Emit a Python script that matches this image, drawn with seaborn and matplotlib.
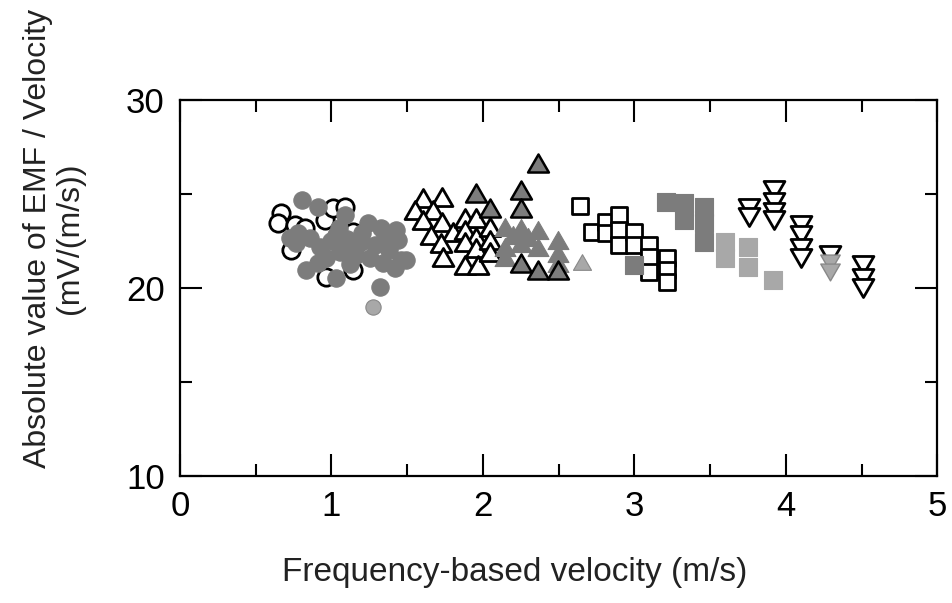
import matplotlib
matplotlib.use("Agg")
import matplotlib.pyplot as plt
from matplotlib.ticker import MultipleLocator
from matplotlib.path import Path
import seaborn as sns
import pandas as pd

# ---- data ----
open_circle_x = [0.668, 0.646, 0.756, 0.822, 0.954, 1.009, 1.086, 1.141, 0.734, 1.141, 0.965]
open_circle_y = [23.97, 23.44, 23.35, 23.18, 23.62, 24.24, 24.33, 23.00, 22.02, 20.96, 20.60]

gray_circle_x = [0.807, 0.910, 1.086, 0.723, 0.767, 0.855, 0.921, 1.031, 1.053, 0.965,
                 0.833, 1.031, 1.141, 1.196, 1.240, 1.328, 1.427, 1.438, 1.284, 1.251,
                 1.339, 1.416, 1.493, 1.163, 0.910, 1.317, 1.000, 1.100, 1.200, 1.350,
                 1.460, 1.120, 0.780, 1.380, 1.050]
gray_circle_y = [24.68, 24.33, 23.88, 22.64, 22.38, 22.64, 22.20, 22.82, 21.93, 21.58,
                 20.96, 20.52, 22.20, 22.46, 23.44, 23.18, 23.09, 22.55, 22.29, 21.58,
                 21.31, 21.05, 21.49, 21.76, 21.31, 20.07, 22.50, 22.60, 22.90, 22.70,
                 21.50, 21.30, 22.90, 22.00, 23.20]

light_circle_x = [1.273]
light_circle_y = [19.00]

open_tri_x = [1.603, 1.731, 1.548, 1.669, 1.603, 1.731, 1.658, 1.801, 1.878, 1.955, 1.878,
              1.955, 1.878, 1.955, 1.724, 1.735, 1.878, 1.966, 2.043, 2.043, 2.043]
open_tri_y = [24.77, 24.86, 24.15, 24.15, 23.62, 23.53, 22.82, 23.00, 23.71, 23.71, 23.09,
              22.73, 22.46, 22.11, 22.38, 21.66, 21.22, 21.22, 23.26, 22.55, 21.93]

dark_tri_x = [2.362, 1.955, 2.252, 2.043, 2.252, 2.362, 2.494, 2.252]
dark_tri_y = [26.63, 25.04, 25.21, 24.24, 24.24, 20.96, 20.96, 21.31]

gray_tri_x = [2.142, 2.252, 2.362, 2.494, 2.142, 2.252, 2.362, 2.142, 2.494, 2.494, 2.200, 2.300]
gray_tri_y = [23.26, 23.18, 23.09, 22.55, 22.20, 22.38, 22.20, 21.66, 21.85, 21.31, 22.80, 22.70]

light_tri_x = [2.655]
light_tri_y = [21.40]

open_sq_x = [2.642, 2.721, 2.813, 2.813, 2.896, 2.896, 2.896, 3.000, 3.000, 3.099, 3.099,
             3.099, 3.213, 3.213, 3.213]
open_sq_y = [24.36, 23.00, 23.53, 22.91, 23.88, 23.09, 22.29, 23.00, 22.29, 22.29, 21.66,
             20.87, 21.58, 20.96, 20.34]

gray_sq_x = [3.209, 3.330, 3.330, 3.457, 3.457, 3.457, 3.000]
gray_sq_y = [24.59, 24.50, 23.62, 24.32, 23.44, 22.46, 21.22]

light_sq_x = [3.599, 3.599, 3.748, 3.748, 3.913]
light_sq_y = [22.46, 21.58, 22.20, 21.13, 20.43]

open_down_x = [3.759, 3.759, 3.924, 3.924, 3.924, 3.924, 4.100, 4.100, 4.100, 4.100, 4.292,
               4.507, 4.507, 4.507]
open_down_y = [24.24, 23.79, 25.21, 24.59, 24.06, 23.62, 23.35, 22.82, 22.11, 21.58, 21.76,
               21.22, 20.52, 19.98]

light_down_x = [4.292, 4.292]
light_down_y = [21.31, 20.87]

x_ticks = [0, 1, 2, 3, 4, 5]
y_ticks = [10, 20, 30]
x_label = "Frequency-based velocity (m/s)"
y_label = "Absolute value of EMF / Velocity\n(mV/(m/s))"

# ---- style ----
sns.set_style("ticks")
plt.rcParams["font.family"] = ["Liberation Sans", "DejaVu Sans"]

W, H = 953, 603
fig = plt.figure(figsize=(W / 100, H / 100), dpi=100)
ax = fig.add_axes([180 / W, 1 - 476 / H, (937.5 - 180) / W, (476 - 100) / H])

UP = Path([(-1, -0.866), (1, -0.866), (0, 0.866), (-1, -0.866)], closed=True)
DOWN = Path([(-1, 0.866), (1, 0.866), (0, -0.866), (-1, 0.866)], closed=True)

GRAY = "#7c7c7c"
LIGHT = "#a8a8a8"


def draw(xs, ys, marker, ms, face, edge, lw, z):
    df = pd.DataFrame({"x": xs, "y": ys})
    sns.scatterplot(data=df, x="x", y="y", ax=ax, marker=marker, s=ms ** 2,
                    color=face, edgecolor=edge, linewidth=lw, zorder=z,
                    legend=False)


draw(open_circle_x, open_circle_y, "o", 12.5, "white", "black", 2.0, 3)
draw(gray_circle_x, gray_circle_y, "o", 12.5, GRAY, GRAY, 0.8, 4)
draw(light_circle_x, light_circle_y, "o", 11, LIGHT, "#888888", 0.8, 4)

draw(open_tri_x, open_tri_y, UP, 15, "white", "black", 2.0, 3)
draw(gray_tri_x, gray_tri_y, UP, 15, GRAY, GRAY, 0.8, 4)
draw(dark_tri_x, dark_tri_y, UP, 15, GRAY, "black", 1.8, 5)
draw(light_tri_x, light_tri_y, UP, 13, LIGHT, "#888888", 0.8, 4)

draw(open_sq_x, open_sq_y, "s", 11, "white", "black", 2.0, 3)
draw(gray_sq_x, gray_sq_y, "s", 12.5, GRAY, GRAY, 0.8, 4)
draw(light_sq_x, light_sq_y, "s", 12.5, LIGHT, LIGHT, 0.8, 4)

draw(open_down_x, open_down_y, DOWN, 15, "white", "black", 2.0, 3)
draw(light_down_x, light_down_y, DOWN, 14, LIGHT, "#888888", 1.0, 4)

ax.set_xlim(0, 5)
ax.set_ylim(10, 30)
ax.set_xticks(x_ticks)
ax.set_yticks(y_ticks)
ax.xaxis.set_minor_locator(MultipleLocator(0.5))
ax.yaxis.set_minor_locator(MultipleLocator(5))
ax.tick_params(which="both", direction="in", top=True, right=True,
               width=1.5, color="black", labelsize=25, labelcolor="black")
ax.tick_params(which="major", length=16)
ax.tick_params(which="minor", length=8.5)
ax.tick_params(axis="x", which="major", pad=10)
ax.tick_params(axis="y", which="major", pad=11)
for sp in ax.spines.values():
    sp.set_linewidth(1.6)
    sp.set_color("black")
ax.set_xlabel("")
ax.set_ylabel("")

fig.text(515 / W, 1 - 573 / H, x_label, ha="center", va="center", fontsize=24,
         color="#222222")
fig.text(54 / W, 1 - 238 / H, y_label, ha="center", va="center", rotation=90,
         fontsize=23, color="#222222", linespacing=1.1)

fig.savefig("out.png", dpi=100)
